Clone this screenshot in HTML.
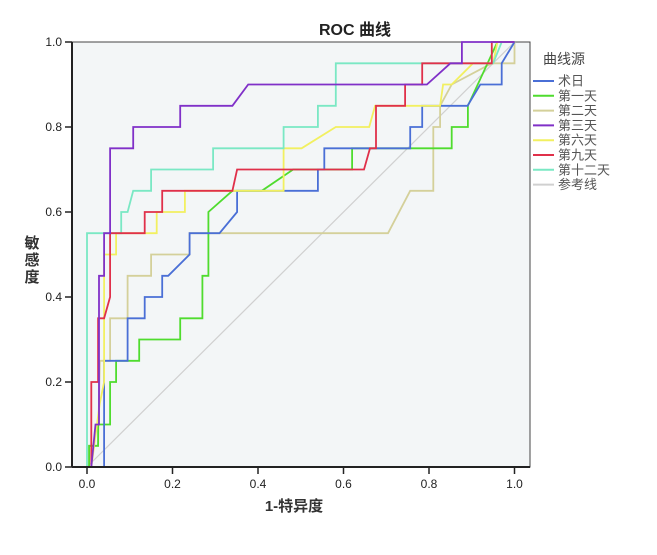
<!DOCTYPE html>
<html><head><meta charset="utf-8"><style>
html,body{margin:0;padding:0;background:#fff;}
svg{display:block;font-family:"Liberation Sans","Noto Sans CJK SC",sans-serif;}
</style></head><body>
<svg id="chart" width="657" height="555" viewBox="0 0 657 555">
<text x="355" y="35" text-anchor="middle" font-size="16" font-weight="bold" fill="#222">ROC 曲线</text>
<rect x="72" y="42" width="458" height="425" fill="#f3f6f7" stroke="#444" stroke-width="1"/>
<g id="series"></g>
<g id="axes"></g>
<text x="32" y="248" text-anchor="middle" font-size="15" font-weight="bold" fill="#333"><tspan x="32" dy="0">敏</tspan><tspan x="32" dy="17">感</tspan><tspan x="32" dy="17">度</tspan></text>
<text x="294" y="511" text-anchor="middle" font-size="15" font-weight="bold" fill="#333">1-特异度</text>
<g id="legend">
<text x="543" y="64" font-size="14" fill="#444">曲线源</text>
</g>
</svg>
<script>
const seriesNames = ["术日","第一天","第二天","第三天","第六天","第九天","第十二天","参考线"];
const seriesColors = ["#4a6fd6","#4fdc2e","#d4d09a","#8030c8","#f2f060","#e0304a","#7ae8c4","#d0d0d0"];
const xTicks = [0,0.2,0.4,0.6,0.8,1.0];
const yTicks = [0,0.2,0.4,0.6,0.8,1.0];
const blueData = [[0.04,0],[0.04,0.25],[0.095,0.25],[0.095,0.35],[0.135,0.35],[0.135,0.4],[0.176,0.4],[0.176,0.45],[0.19,0.45],[0.24,0.5],[0.24,0.55],[0.31,0.55],[0.351,0.6],[0.351,0.65],[0.54,0.65],[0.54,0.7],[0.555,0.7],[0.555,0.75],[0.756,0.75],[0.756,0.8],[0.784,0.8],[0.784,0.85],[0.89,0.85],[0.92,0.9],[0.97,0.9],[0.97,0.95],[1,1]];
const greenData = [[0.005,0],[0.005,0.05],[0.026,0.05],[0.026,0.1],[0.054,0.1],[0.054,0.2],[0.068,0.2],[0.068,0.25],[0.122,0.25],[0.122,0.3],[0.218,0.3],[0.218,0.35],[0.27,0.35],[0.27,0.45],[0.284,0.45],[0.284,0.6],[0.34,0.65],[0.409,0.65],[0.482,0.7],[0.62,0.7],[0.62,0.75],[0.853,0.75],[0.853,0.8],[0.891,0.8],[0.891,0.85],[0.96,1],[1,1]];
const beigeData = [[0.005,0],[0.005,0.05],[0.026,0.05],[0.03,0.25],[0.054,0.25],[0.054,0.35],[0.095,0.35],[0.095,0.45],[0.15,0.45],[0.15,0.5],[0.24,0.5],[0.24,0.55],[0.704,0.55],[0.756,0.65],[0.81,0.65],[0.81,0.8],[0.826,0.8],[0.826,0.85],[0.853,0.9],[0.947,0.95],[1,0.95],[1,1]];
const purpleData = [[0.01,0],[0.02,0.1],[0.028,0.1],[0.028,0.45],[0.04,0.45],[0.04,0.55],[0.054,0.55],[0.054,0.75],[0.108,0.75],[0.108,0.8],[0.218,0.8],[0.218,0.85],[0.34,0.85],[0.377,0.9],[0.795,0.9],[0.85,0.95],[0.877,0.95],[0.877,1],[1,1]];
const yellowData = [[0.01,0],[0.03,0.15],[0.04,0.2],[0.04,0.5],[0.068,0.5],[0.068,0.55],[0.163,0.55],[0.163,0.6],[0.229,0.6],[0.229,0.65],[0.46,0.65],[0.46,0.75],[0.502,0.75],[0.582,0.8],[0.66,0.8],[0.674,0.85],[0.826,0.85],[0.833,0.9],[0.853,0.9],[0.903,0.95],[0.95,0.95],[0.96,1],[1,1]];
const redData = [[0.01,0],[0.01,0.2],[0.026,0.2],[0.026,0.35],[0.04,0.35],[0.054,0.4],[0.054,0.55],[0.135,0.55],[0.135,0.6],[0.176,0.6],[0.176,0.65],[0.34,0.65],[0.351,0.7],[0.648,0.7],[0.662,0.75],[0.676,0.75],[0.676,0.85],[0.744,0.85],[0.744,0.9],[0.784,0.9],[0.784,0.95],[0.947,0.95],[0.947,1],[1,1]];
const tealData = [[0,0],[0,0.55],[0.08,0.55],[0.08,0.6],[0.095,0.6],[0.108,0.65],[0.15,0.65],[0.15,0.7],[0.295,0.7],[0.295,0.75],[0.46,0.75],[0.46,0.8],[0.54,0.8],[0.54,0.85],[0.582,0.85],[0.582,0.95],[0.95,0.95],[0.97,1],[1,1]];
const refData = [[0,0],[1,1]];
const allData = [blueData,greenData,beigeData,purpleData,yellowData,redData,tealData,refData];

const X0=87, XS=427.5, Y0=467, YS=425;
function sx(v){return X0+v*XS;}
function sy(v){return Y0-v*YS;}
const NS="http://www.w3.org/2000/svg";
const sg=document.getElementById('series');
const drawOrder=[7,2,1,0,4,6,5,3];
drawOrder.forEach(i=>{
  const p=document.createElementNS(NS,'polyline');
  p.setAttribute('points',allData[i].map(d=>sx(d[0]).toFixed(1)+','+sy(d[1]).toFixed(1)).join(' '));
  p.setAttribute('fill','none');
  p.setAttribute('stroke',seriesColors[i]);
  p.setAttribute('stroke-width',i===7?1.2:1.8);
  
  
  sg.appendChild(p);
});
const ax=document.getElementById('axes');
function mk(tag,attrs,txt){const e=document.createElementNS(NS,tag);for(const k in attrs)e.setAttribute(k,attrs[k]);if(txt!==undefined)e.textContent=txt;ax.appendChild(e);return e;}
const yl=mk('line',{x1:72,y1:42,x2:72,y2:467,stroke:'#222','stroke-width':2});


const xl=mk('line',{x1:72,y1:467,x2:530,y2:467,stroke:'#222','stroke-width':2});


yTicks.forEach(t=>{
  const l=mk('line',{x1:65,y1:sy(t),x2:72,y2:sy(t),stroke:'#222','stroke-width':1.5});
  
  
  const tx=mk('text',{x:62,y:sy(t)+4,'text-anchor':'end','font-size':12,fill:'#222'},t.toFixed(1));
  
  
});
xTicks.forEach(t=>{
  const l=mk('line',{x1:sx(t),y1:467,x2:sx(t),y2:474,stroke:'#222','stroke-width':1.5});
  
  
  const tx=mk('text',{x:sx(t),y:488,'text-anchor':'middle','font-size':12,fill:'#222'},t.toFixed(1));
  
  
});
const lg=document.getElementById('legend');
seriesNames.forEach((n,i)=>{
  const y=81+i*14.8;
  const l=document.createElementNS(NS,'line');
  l.setAttribute('x1',533);l.setAttribute('x2',554);l.setAttribute('y1',y);l.setAttribute('y2',y);
  l.setAttribute('stroke',seriesColors[i]);l.setAttribute('stroke-width',2);
  
  
  lg.appendChild(l);
  const t=document.createElementNS(NS,'text');
  t.setAttribute('x',558);t.setAttribute('y',y+4.5);t.setAttribute('font-size',13);t.setAttribute('fill','#555');
  t.textContent=n;
  
  
  lg.appendChild(t);
});
</script>
</body></html>
